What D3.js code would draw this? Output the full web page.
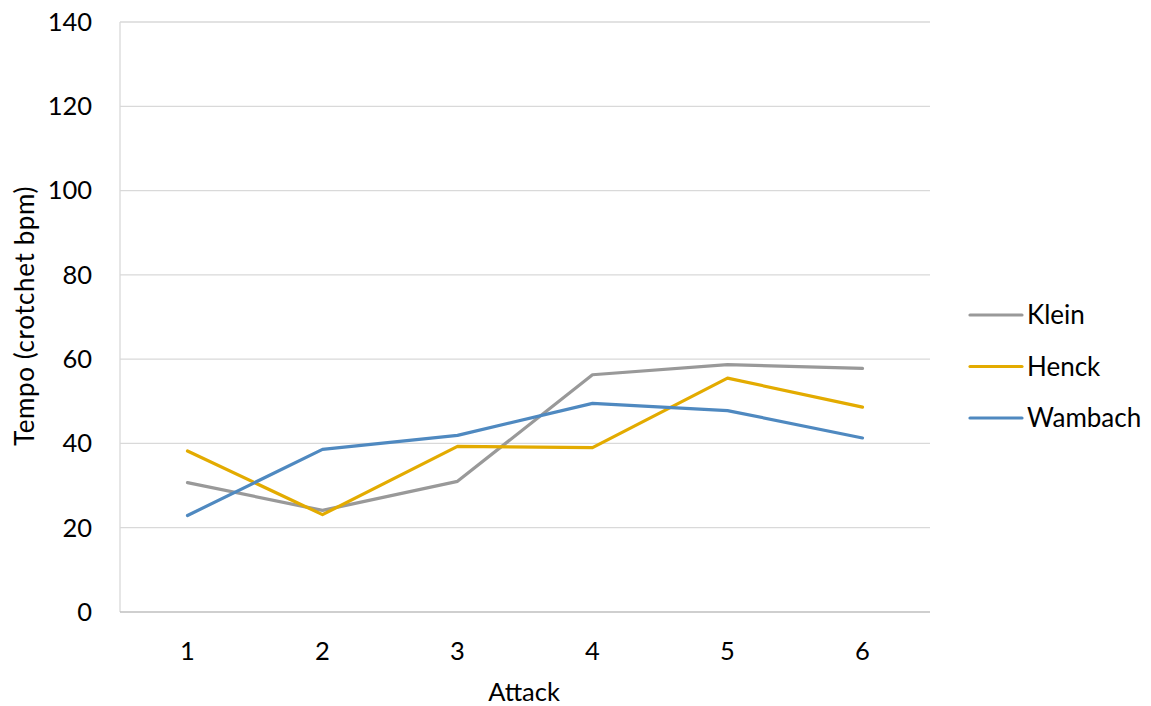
<!DOCTYPE html>
<html><head><meta charset="utf-8">
<script src="https://cdn.jsdelivr.net/npm/d3@7"></script>
<style>body{margin:0;background:#fff;} text{font-family:Lato,"Open Sans",sans-serif;fill:#000;}</style>
</head><body><svg id="c" width="1151" height="706"></svg>
<script>
const categories = [1, 2, 3, 4, 5, 6];
const seriesNames = ["Klein", "Henck", "Wambach"];
const klein = [30.7, 24.1, 31.0, 56.3, 58.7, 57.8];
const henck = [38.2, 23.1, 39.3, 39.0, 55.5, 48.6];
const wambach = [22.9, 38.6, 41.9, 49.5, 47.8, 41.3];
const yTicks = [0, 20, 40, 60, 80, 100, 120, 140];
const colors = ["#999999", "#E3AB00", "#4F89C0"];
const series = [klein, henck, wambach];

const svg = d3.select("#c");
const L = 120, R = 930, T = 22, B = 612;
const FS = "25.5px";
const x = d3.scaleBand().domain(categories).range([L, R]);
const y = d3.scaleLinear().domain([0, 140]).range([B, T]);

// gridlines
svg.append("g").selectAll("line").data(yTicks.filter(d => d > 0)).join("line")
  .attr("x1", L).attr("x2", R).attr("y1", d => y(d)).attr("y2", d => y(d))
  .attr("stroke", "#d9d9d9").attr("stroke-width", 1.3);
// left axis
svg.append("line").attr("x1", L).attr("x2", L).attr("y1", T).attr("y2", B)
  .attr("stroke", "#d9d9d9").attr("stroke-width", 1.3);
// bottom axis
svg.append("line").attr("x1", L).attr("x2", R).attr("y1", B).attr("y2", B)
  .attr("stroke", "#bfbfbf").attr("stroke-width", 1.3);

// y tick labels
svg.append("g").selectAll("text").data(yTicks).join("text")
  .attr("x", 92).attr("y", d => y(d)).attr("dy", "0.35em")
  .attr("text-anchor", "end").style("font-size", FS).text(d => d);
// x tick labels
svg.append("g").selectAll("text").data(categories).join("text")
  .attr("x", d => x(d) + x.bandwidth() / 2).attr("y", 651).attr("dy", "0.35em")
  .attr("text-anchor", "middle").style("font-size", FS).text(d => d);

// axis titles
svg.append("text").attr("x", 524).attr("y", 692).attr("dy", "0.35em")
  .attr("text-anchor", "middle").style("font-size", FS).text("Attack");
svg.append("text").attr("transform", "translate(25,316) rotate(-90)").attr("dy", "0.35em")
  .attr("text-anchor", "middle").style("font-size", "26px").style("letter-spacing", "0.6px")
  .text("Tempo (crotchet bpm)");

// lines
const line = d3.line().x((d, i) => x(categories[i]) + x.bandwidth() / 2).y(d => y(d));
series.forEach((s, k) => {
  svg.append("path").datum(s).attr("d", line).attr("fill", "none")
    .attr("stroke", colors[k]).attr("stroke-width", 3.2)
    .attr("stroke-linejoin", "round").attr("stroke-linecap", "round");
});

// legend
const legY = [315, 366.5, 418];
seriesNames.forEach((n, k) => {
  svg.append("line").attr("x1", 970).attr("x2", 1022).attr("y1", legY[k]).attr("y2", legY[k])
    .attr("stroke", colors[k]).attr("stroke-width", 3.2).attr("stroke-linecap", "round");
  svg.append("text").attr("x", 1027).attr("y", legY[k]).attr("dy", "0.35em")
    .style("font-size", "26px").text(n);
});
</script></body></html>
